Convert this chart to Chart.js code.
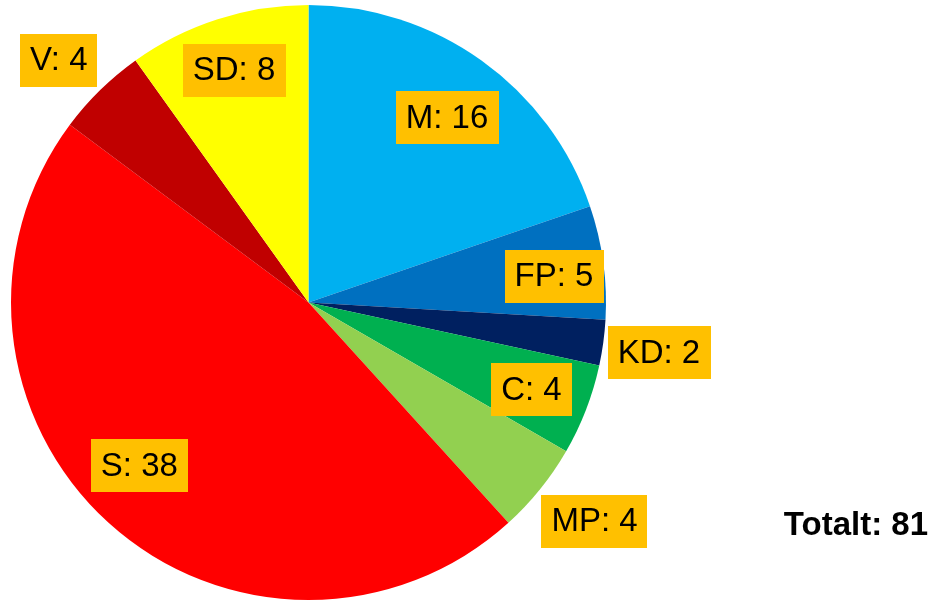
<!DOCTYPE html>
<html>
<head>
<meta charset="utf-8">
<script src="https://cdn.jsdelivr.net/npm/chart.js@4/dist/chart.umd.min.js"></script>
<style>
  html, body { margin: 0; padding: 0; background: #fff; }
  #wrap { width: 931px; height: 600px; }
</style>
</head>
<body>
<div id="wrap"><canvas id="pie" width="931" height="600"></canvas></div>
<script>
/* ======= Data ======= */
const partier = ["M", "FP", "KD", "C", "MP", "S", "V", "SD"];
const mandat = [16, 5, 2, 4, 4, 38, 4, 8];
const farger = ["#00B0F0", "#0070C0", "#002060", "#00B050", "#92D050", "#FF0000", "#C00000", "#FFFF00"];

/* label placement: [radius factor, angle nudge in degrees] */
const etikettPlats = [[0.776, 1.3], [0.83, 1.7], [1.19, 0.4], [0.805, 0.3], [1.21, -1.5], [0.79, 3.8], [1.17, -1.4], [0.82, 0]];

const FONT = '"Liberation Sans", Arial, sans-serif';

const etiketter = {
  id: 'etiketter',
  afterDatasetsDraw(chart) {
    const ctx = chart.ctx;
    const meta = chart.getDatasetMeta(0);
    ctx.save();
    ctx.font = '33px ' + FONT;
    ctx.textBaseline = 'middle';
    ctx.textAlign = 'center';
    meta.data.forEach((arc, i) => {
      const p = arc.getProps(['x', 'y', 'startAngle', 'endAngle', 'outerRadius'], true);
      const [f, nudge] = etikettPlats[i];
      const a = (p.startAngle + p.endAngle) / 2 + nudge * Math.PI / 180;
      const r = p.outerRadius * f;
      const cx = p.x + Math.cos(a) * r;
      const cy = p.y + Math.sin(a) * r;
      const text = partier[i] + ': ' + mandat[i];
      const w = ctx.measureText(text).width + 20;
      const h = 53;
      ctx.fillStyle = '#FFC000';
      ctx.fillRect(Math.round(cx - w / 2), Math.round(cy - h / 2), Math.round(w), h);
      ctx.fillStyle = '#000';
      ctx.fillText(text, cx, cy + 1);
    });

    // Totalt
    const total = mandat.reduce((s, v) => s + v, 0);
    ctx.font = 'bold 33px ' + FONT;
    ctx.textAlign = 'right';
    ctx.textBaseline = 'alphabetic';
    ctx.fillText('Totalt: ' + total, 928, 535);
    ctx.restore();
  }
};

new Chart(document.getElementById('pie'), {
  type: 'pie',
  data: {
    labels: partier,
    datasets: [{
      data: mandat,
      backgroundColor: farger,
      borderWidth: 0
    }]
  },
  options: {
    responsive: false,
    animation: false,
    layout: { padding: { left: 11, top: 5, bottom: 0, right: 325 } },
    plugins: {
      legend: { display: false },
      tooltip: { enabled: false }
    }
  },
  plugins: [etiketter]
});
</script>
</body>
</html>
